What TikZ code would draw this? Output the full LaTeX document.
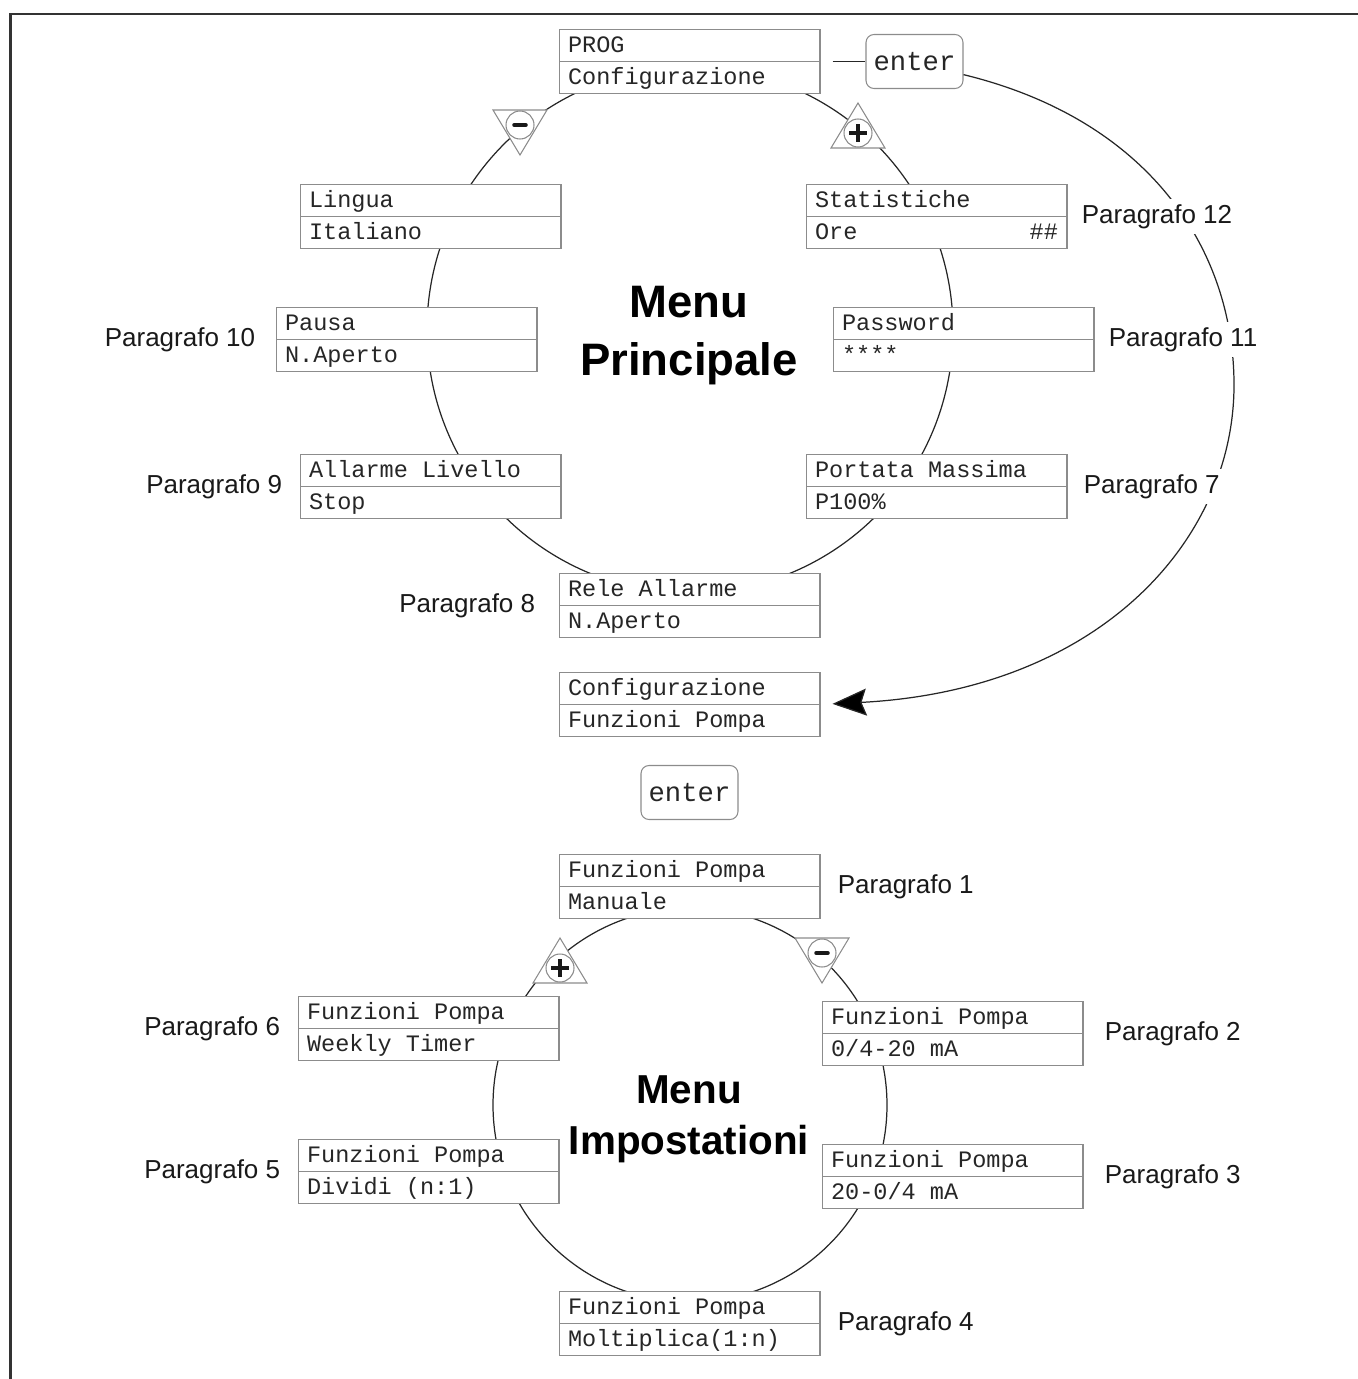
\documentclass[tikz,border=0pt]{standalone}
\usepackage{fontspec}
\setmainfont{Liberation Sans}
\newfontfamily\lcdfont{Liberation Mono}
\usetikzlibrary{shapes.multipart,positioning,arrows.meta}

% carattere del display e altezza fissa di una riga
\newcommand{\lcdsize}{\lcdfont\fontsize{13.4}{16}\selectfont\spaceskip=0.6em\relax}
\newcommand{\rs}{\rule[-4.76pt]{0pt}{17.36pt}}

\tikzset{
  lcd/.style={draw=black!45, line width=0.6pt, fill=white,
    rectangle split, rectangle split parts=2,
    text width=4.86cm, inner xsep=0.18cm, inner ysep=0pt, align=flush left,
    font=\lcdsize, text=black!85},
  key/.style={draw=black!45, line width=0.6pt, fill=white, rounded corners=0.16cm,
    minimum width=1.94cm, minimum height=1.08cm, inner sep=0pt,
    font=\lcdfont\fontsize{15.5}{18}\selectfont, text=black!85},
  para/.style={fill=white, inner xsep=0.15cm, inner ysep=3.3pt,
    font=\fontsize{14.8}{17}\selectfont, text=black!90},
  parar/.style={para, text width=3.1cm, align=flush left},
  ring/.style={line width=0.7pt, draw=black!85},
  keyline/.style={draw=black!45, fill=white, line width=0.6pt},
  sign/.style={line width=2pt, draw=black!90},
}

\begin{document}
\begin{tikzpicture}[x=0.02cm, y=-0.02cm]
  \useasboundingbox (0,0) rectangle (1358,1379);
  % cornice
  \draw[line width=1.6pt, black!80] (10.7,1400) -- (10.7,14) -- (1400,14);

  % anelli dei menu
  \draw[ring] (690,330) circle (263);
  \draw[ring] (690,1105) circle (197);

  % tasti + e -
  \foreach \x/\y in {858/133, 560/968} {
    \draw[keyline] (\x,\y) ++(0,-30) -- ++(27,45) -- ++(-54,0) -- cycle;
    \draw[keyline] (\x,\y) circle (14);
    \draw[sign] (\x,\y) ++(-9,0) -- ++(18,0) (\x,\y) ++(0,-9) -- ++(0,18);
  }
  \foreach \x/\y in {520/125, 822/953} {
    \draw[keyline] (\x,\y) ++(0,30) -- ++(27,-45) -- ++(-54,0) -- cycle;
    \draw[keyline] (\x,\y) circle (14);
    \draw[sign, line cap=round] (\x,\y) ++(-6,0) -- ++(12,0);
  }

  % menu principale
  \node[lcd] (prog) at (689.5,61.5) {\rs PROG\nodepart{two}\rs Configurazione};
  \node[lcd] (lingua) at (430.5,216.5) {\rs Lingua\nodepart{two}\rs Italiano};
  \node[lcd] (stat) at (936.5,216.5) {\rs Statistiche\nodepart{two}\rs Ore\hfill\#\#};
  \node[lcd] (pausa) at (406.5,339.5) {\rs Pausa\nodepart{two}\rs N.Aperto};
  \node[lcd] (pwd) at (963.5,339.5) {\rs Password\nodepart{two}\rs ****};
  \node[lcd] (allarme) at (430.5,486.5) {\rs Allarme Livello\nodepart{two}\rs Stop};
  \node[lcd] (portata) at (936.5,486.5) {\rs Portata Massima\nodepart{two}\rs P100\%};
  \node[lcd] (rele) at (689.5,605.5) {\rs Rele Allarme\nodepart{two}\rs N.Aperto};
  \node[lcd] (conf) at (689.5,704.5) {\rs Configurazione\nodepart{two}\rs Funzioni Pompa};

  % menu impostazioni
  \node[lcd] (manuale) at (689.5,886.5) {\rs Funzioni Pompa\nodepart{two}\rs Manuale};
  \node[lcd] (weekly) at (428.5,1028.5) {\rs Funzioni Pompa\nodepart{two}\rs Weekly Timer};
  \node[lcd] (curA) at (952.5,1033.5) {\rs Funzioni Pompa\nodepart{two}\rs 0/4-20 mA};
  \node[lcd] (dividi) at (428.5,1171.5) {\rs Funzioni Pompa\nodepart{two}\rs Dividi (n:1)};
  \node[lcd] (curB) at (952.5,1176.5) {\rs Funzioni Pompa\nodepart{two}\rs 20-0/4 mA};
  \node[lcd] (molt) at (689.5,1323.5) {\rs Funzioni Pompa\nodepart{two}\rs Moltiplica(1:n)};

  % tasti enter
  \node[key] (enterA) at (914.5,61.5) {enter};
  \node[key] (enterB) at (689.5,792.5) {enter};

  % titoli
  \node[align=center, font=\fontsize{25.9}{33}\selectfont\bfseries] (mainT) at (689,336) {Menu\\Principale};
  \node[align=center, font=\fontsize{23}{29}\selectfont\bfseries] (setT) at (689,1119) {Menu\\Impostationi};

  % collegamenti
  \draw[ring] ([xshift=0.24cm]prog.east) -- (enterA.west);
  \draw[ring, -{Stealth[length=0.68cm, width=0.54cm, inset=0.1cm]}, shorten >=0.24cm]
    (enterA.-15) .. controls (1150,120) and (1234,250) .. (1234,385)
    .. controls (1234,540) and (1100,690) .. (conf.east);

  % paragrafi
  \node[parar, right=0.13cm of stat] (p12) {Paragrafo 12};
  \node[parar, right=0.13cm of pwd] (p11) {Paragrafo 11};
  \node[parar, right=0.17cm of portata] (p7) {Paragrafo 7};
  \node[para, left=0.25cm of pausa] (p10) {Paragrafo 10};
  \node[para, left=0.19cm of allarme] (p9) {Paragrafo 9};
  \node[para, left=0.31cm of rele] (p8) {Paragrafo 8};
  \node[parar, right=0.19cm of manuale] (p1) {Paragrafo 1};
  \node[parar, right=0.27cm of curA] (p2) {Paragrafo 2};
  \node[parar, right=0.27cm of curB] (p3) {Paragrafo 3};
  \node[parar, right=0.19cm of molt] (p4) {Paragrafo 4};
  \node[para, left=0.19cm of weekly] (p6) {Paragrafo 6};
  \node[para, left=0.19cm of dividi] (p5) {Paragrafo 5};
\end{tikzpicture}
\end{document}
